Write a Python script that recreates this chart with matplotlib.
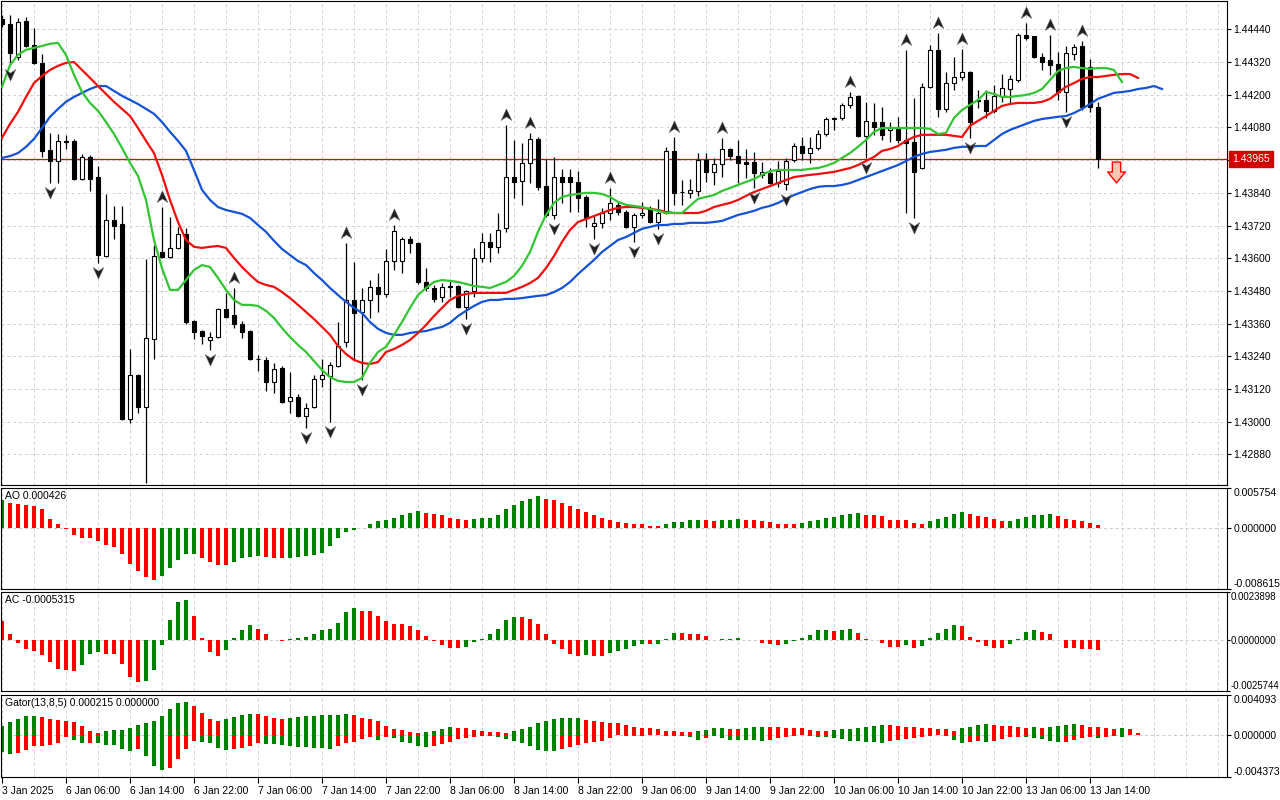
import numpy as np
import matplotlib
matplotlib.use('Agg')
import matplotlib.pyplot as plt
from matplotlib.path import Path
from matplotlib.transforms import blended_transform_factory

plt.rcParams['font.family'] = ['Liberation Sans', 'DejaVu Sans']

# H1 candles, 3 Jan 22:00 .. 13 Jan 15:00
opens = [1.44478, 1.44460, 1.44339, 1.44471, 1.44383, 1.44317, 1.43998, 1.43957, 1.44030, 1.44030,
         1.43891, 1.43972, 1.43898, 1.43609, 1.43741, 1.43726, 1.43010, 1.43172, 1.43054, 1.43304,
         1.43624, 1.43605, 1.43638, 1.43689, 1.43370, 1.43333, 1.43300, 1.43311, 1.43414, 1.43392,
         1.43359, 1.43333, 1.43231, 1.43227, 1.43146, 1.43198, 1.43076, 1.43091, 1.43021, 1.43054,
         1.43157, 1.43168, 1.43205, 1.43293, 1.43447, 1.43403, 1.43447, 1.43494, 1.43469, 1.43590,
         1.43590, 1.43671, 1.43656, 1.43513, 1.43491, 1.43458, 1.43498, 1.43498, 1.43421, 1.43480,
         1.43602, 1.43660, 1.43641, 1.43712, 1.43898, 1.43884, 1.43950, 1.44038, 1.43865, 1.43759,
         1.43898, 1.43898, 1.43880, 1.43825, 1.43719, 1.43730, 1.43766, 1.43796, 1.43770, 1.43715,
         1.43759, 1.43785, 1.43734, 1.43766, 1.43994, 1.43844, 1.43840, 1.43847, 1.43961, 1.43917,
         1.43946, 1.44001, 1.43976, 1.43954, 1.43954, 1.43906, 1.43913, 1.43876, 1.43873, 1.43961,
         1.44013, 1.43987, 1.44005, 1.44056, 1.44115, 1.44115, 1.44163, 1.44196, 1.44049, 1.44100,
         1.44100, 1.44071, 1.44078, 1.44034, 1.44027, 1.43932, 1.44229, 1.44365, 1.44148, 1.44243,
         1.44265, 1.44284, 1.44181, 1.44181, 1.44141, 1.44196, 1.44221, 1.44254, 1.44420, 1.44416,
         1.44339, 1.44328, 1.44313, 1.44210, 1.44350, 1.44379, 1.44302, 1.44155]
highs = [1.44493, 1.44493, 1.44482, 1.44485, 1.44446, 1.44350, 1.44060, 1.44056, 1.44053, 1.44038,
         1.43983, 1.43980, 1.43939, 1.43836, 1.43792, 1.43792, 1.43267, 1.43174, 1.43598, 1.43649,
         1.43788, 1.43751, 1.43715, 1.43712, 1.43374, 1.43337, 1.43330, 1.43416, 1.43473, 1.43491,
         1.43370, 1.43337, 1.43246, 1.43238, 1.43216, 1.43205, 1.43183, 1.43102, 1.43069, 1.43172,
         1.43231, 1.43220, 1.43367, 1.43656, 1.43587, 1.43491, 1.43520, 1.43546, 1.43634, 1.43723,
         1.43678, 1.43682, 1.43660, 1.43565, 1.43502, 1.43509, 1.43520, 1.43502, 1.43484, 1.43638,
         1.43693, 1.43693, 1.43766, 1.44090, 1.44034, 1.44023, 1.44060, 1.44045, 1.43965, 1.43972,
         1.43928, 1.43928, 1.43920, 1.43832, 1.43759, 1.43785, 1.43858, 1.43807, 1.43777, 1.43766,
         1.43807, 1.43792, 1.43818, 1.44009, 1.44045, 1.43887, 1.43891, 1.43987, 1.43987, 1.43969,
         1.44042, 1.44005, 1.44034, 1.44001, 1.43990, 1.43954, 1.43932, 1.43957, 1.43969, 1.44023,
         1.44045, 1.44045, 1.44071, 1.44119, 1.44119, 1.44170, 1.44211, 1.44200, 1.44174, 1.44170,
         1.44155, 1.44100, 1.44119, 1.44365, 1.44189, 1.44243, 1.44383, 1.44427, 1.44284, 1.44339,
         1.44368, 1.44287, 1.44218, 1.44218, 1.44236, 1.44276, 1.44273, 1.44427, 1.44464, 1.44401,
         1.44354, 1.44420, 1.44357, 1.44379, 1.44387, 1.44398, 1.44332, 1.44174]
lows = [1.44449, 1.44310, 1.44328, 1.44375, 1.44313, 1.43972, 1.43876, 1.43876, 1.44001, 1.43887,
        1.43887, 1.43847, 1.43583, 1.43605, 1.43671, 1.43007, 1.42996, 1.43032, 1.42775, 1.43231,
        1.43602, 1.43602, 1.43634, 1.43359, 1.43304, 1.43285, 1.43264, 1.43308, 1.43381, 1.43345,
        1.43308, 1.43227, 1.43186, 1.43113, 1.43106, 1.43069, 1.43032, 1.43017, 1.42978, 1.43049,
        1.43127, 1.43000, 1.43201, 1.43274, 1.43227, 1.43153, 1.43381, 1.43403, 1.43458, 1.43557,
        1.43546, 1.43620, 1.43505, 1.43480, 1.43440, 1.43440, 1.43458, 1.43418, 1.43377, 1.43458,
        1.43587, 1.43587, 1.43620, 1.43697, 1.43822, 1.43796, 1.43876, 1.43851, 1.43751, 1.43744,
        1.43803, 1.43770, 1.43770, 1.43715, 1.43671, 1.43712, 1.43741, 1.43759, 1.43712, 1.43660,
        1.43748, 1.43730, 1.43708, 1.43763, 1.43796, 1.43796, 1.43822, 1.43829, 1.43880, 1.43869,
        1.43898, 1.43961, 1.43876, 1.43895, 1.43858, 1.43895, 1.43873, 1.43862, 1.43851, 1.43954,
        1.43961, 1.43950, 1.43998, 1.44049, 1.44071, 1.44108, 1.44152, 1.44045, 1.43969, 1.44053,
        1.44034, 1.44027, 1.44023, 1.43766, 1.43748, 1.43928, 1.44225, 1.44119, 1.44137, 1.44218,
        1.44254, 1.44042, 1.44152, 1.44115, 1.44133, 1.44174, 1.44166, 1.44247, 1.44401, 1.44335,
        1.44291, 1.44273, 1.44181, 1.44137, 1.44328, 1.44144, 1.44137, 1.43932]
closes = [1.44460, 1.44354, 1.44468, 1.44379, 1.44317, 1.43994, 1.43957, 1.44030, 1.44028, 1.43891,
          1.43972, 1.43891, 1.43613, 1.43741, 1.43719, 1.43010, 1.43172, 1.43054, 1.43308, 1.43609,
          1.43605, 1.43638, 1.43689, 1.43367, 1.43330, 1.43315, 1.43311, 1.43414, 1.43384, 1.43359,
          1.43330, 1.43231, 1.43229, 1.43146, 1.43194, 1.43073, 1.43091, 1.43021, 1.43051, 1.43157,
          1.43172, 1.43209, 1.43278, 1.43447, 1.43399, 1.43447, 1.43494, 1.43469, 1.43590, 1.43700,
          1.43671, 1.43656, 1.43513, 1.43491, 1.43451, 1.43494, 1.43496, 1.43421, 1.43480, 1.43602,
          1.43660, 1.43641, 1.43704, 1.43898, 1.43880, 1.43950, 1.44038, 1.43861, 1.43759, 1.43898,
          1.43880, 1.43880, 1.43822, 1.43748, 1.43730, 1.43766, 1.43803, 1.43770, 1.43715, 1.43759,
          1.43766, 1.43734, 1.43766, 1.43994, 1.43840, 1.43842, 1.43851, 1.43961, 1.43917, 1.43946,
          1.44001, 1.43976, 1.43950, 1.43946, 1.43913, 1.43917, 1.43876, 1.43920, 1.43957, 1.44013,
          1.43987, 1.44005, 1.44056, 1.44111, 1.44111, 1.44163, 1.44192, 1.44049, 1.44104, 1.44082,
          1.44053, 1.44078, 1.44034, 1.44023, 1.43917, 1.44229, 1.44365, 1.44148, 1.44243, 1.44265,
          1.44284, 1.44100, 1.44177, 1.44141, 1.44196, 1.44225, 1.44258, 1.44420, 1.44409, 1.44339,
          1.44321, 1.44310, 1.44210, 1.44354, 1.44376, 1.44155, 1.44155, 1.43965]

# Alligator lines (jaw shifted 8, teeth 5, lips 3 bars ahead)
jaw = [1.43968, 1.43975, 1.43986, 1.44009, 1.44038, 1.44078, 1.44119, 1.44148, 1.44174, 1.44192,
       1.44207, 1.44221, 1.44232, 1.44232, 1.44214, 1.44196, 1.44181, 1.44166, 1.44148, 1.44130,
       1.44100, 1.44064, 1.44031, 1.43994, 1.43924, 1.43851, 1.43814, 1.43788, 1.43777, 1.43770,
       1.43763, 1.43748, 1.43722, 1.43697, 1.43664, 1.43634, 1.43612, 1.43590, 1.43575, 1.43546,
       1.43520, 1.43491, 1.43465, 1.43440, 1.43418, 1.43399, 1.43366, 1.43341, 1.43326, 1.43319,
       1.43319, 1.43326, 1.43330, 1.43333, 1.43341, 1.43348, 1.43363, 1.43388, 1.43407, 1.43425,
       1.43440, 1.43447, 1.43447, 1.43451, 1.43451, 1.43454, 1.43458, 1.43462, 1.43465, 1.43476,
       1.43491, 1.43513, 1.43542, 1.43568, 1.43594, 1.43623, 1.43645, 1.43667, 1.43678, 1.43693,
       1.43708, 1.43715, 1.43722, 1.43722, 1.43726, 1.43726, 1.43730, 1.43730, 1.43730, 1.43733,
       1.43737, 1.43748, 1.43759, 1.43766, 1.43774, 1.43785, 1.43792, 1.43803, 1.43818, 1.43832,
       1.43843, 1.43854, 1.43862, 1.43865, 1.43865, 1.43869, 1.43876, 1.43887, 1.43898, 1.43909,
       1.43920, 1.43931, 1.43942, 1.43957, 1.43972, 1.43983, 1.43990, 1.43994, 1.43998, 1.44005,
       1.44009, 1.44009, 1.44012, 1.44012, 1.44034, 1.44056, 1.44071, 1.44082, 1.44093, 1.44104,
       1.44111, 1.44115, 1.44119, 1.44122, 1.44133, 1.44148, 1.44166, 1.44185, 1.44196, 1.44207,
       1.44210, 1.44214, 1.44221, 1.44225, 1.44232, 1.44221]
teeth = [1.44042, 1.44093, 1.44137, 1.44192, 1.44243, 1.44269, 1.44291, 1.44306, 1.44317, 1.44320,
         1.44291, 1.44262, 1.44232, 1.44203, 1.44174, 1.44148, 1.44122, 1.44078, 1.44031, 1.43986,
         1.43906, 1.43814, 1.43733, 1.43667, 1.43642, 1.43638, 1.43642, 1.43645, 1.43638, 1.43601,
         1.43568, 1.43539, 1.43513, 1.43502, 1.43495, 1.43476, 1.43454, 1.43429, 1.43403, 1.43377,
         1.43348, 1.43319, 1.43278, 1.43249, 1.43227, 1.43216, 1.43212, 1.43219, 1.43256, 1.43267,
         1.43282, 1.43300, 1.43326, 1.43355, 1.43388, 1.43418, 1.43447, 1.43462, 1.43469, 1.43473,
         1.43473, 1.43473, 1.43473, 1.43473, 1.43484, 1.43495, 1.43509, 1.43528, 1.43564, 1.43608,
         1.43660, 1.43704, 1.43733, 1.43744, 1.43755, 1.43766, 1.43777, 1.43785, 1.43788, 1.43788,
         1.43785, 1.43781, 1.43777, 1.43770, 1.43766, 1.43766, 1.43766, 1.43766, 1.43774, 1.43788,
         1.43796, 1.43803, 1.43814, 1.43829, 1.43843, 1.43854, 1.43865, 1.43876, 1.43887, 1.43898,
         1.43902, 1.43906, 1.43909, 1.43913, 1.43917, 1.43924, 1.43931, 1.43942, 1.43957, 1.43972,
         1.43994, 1.44001, 1.44012, 1.44031, 1.44045, 1.44053, 1.44053, 1.44053, 1.44053, 1.44049,
         1.44045, 1.44086, 1.44104, 1.44122, 1.44141, 1.44159, 1.44166, 1.44170, 1.44170, 1.44170,
         1.44174, 1.44185, 1.44207, 1.44229, 1.44243, 1.44258, 1.44265, 1.44265, 1.44269, 1.44273,
         1.44276, 1.44276, 1.44262]
lips = [1.44229, 1.44309, 1.44346, 1.44365, 1.44372, 1.44379, 1.44387, 1.44390, 1.44346, 1.44273,
        1.44210, 1.44170, 1.44141, 1.44100, 1.44056, 1.44005, 1.43950, 1.43902, 1.43814, 1.43667,
        1.43564, 1.43484, 1.43484, 1.43520, 1.43557, 1.43575, 1.43568, 1.43528, 1.43484, 1.43447,
        1.43429, 1.43429, 1.43425, 1.43407, 1.43381, 1.43344, 1.43311, 1.43282, 1.43256, 1.43223,
        1.43190, 1.43164, 1.43150, 1.43146, 1.43146, 1.43161, 1.43216, 1.43256, 1.43275, 1.43319,
        1.43366, 1.43418, 1.43465, 1.43491, 1.43513, 1.43520, 1.43517, 1.43513, 1.43506, 1.43498,
        1.43495, 1.43491, 1.43502, 1.43513, 1.43535, 1.43572, 1.43623, 1.43697, 1.43759, 1.43803,
        1.43825, 1.43832, 1.43836, 1.43840, 1.43840, 1.43836, 1.43825, 1.43807, 1.43796, 1.43792,
        1.43788, 1.43781, 1.43774, 1.43766, 1.43766, 1.43766, 1.43792, 1.43818, 1.43825, 1.43832,
        1.43847, 1.43858, 1.43869, 1.43880, 1.43891, 1.43906, 1.43920, 1.43924, 1.43924, 1.43924,
        1.43924, 1.43928, 1.43931, 1.43939, 1.43950, 1.43968, 1.43986, 1.44009, 1.44034, 1.44064,
        1.44078, 1.44078, 1.44078, 1.44078, 1.44078, 1.44078, 1.44075, 1.44056, 1.44060, 1.44115,
        1.44144, 1.44163, 1.44181, 1.44210, 1.44203, 1.44192, 1.44192, 1.44196, 1.44199, 1.44207,
        1.44221, 1.44254, 1.44287, 1.44298, 1.44302, 1.44298, 1.44295, 1.44298, 1.44298, 1.44291,
        1.44247]

# Awesome Oscillator, in 1e-5
ao_pts = [400, 367, 353, 339, 316, 273, 141, 57, -5, -94,
          -132, -141, -179, -236, -259, -363, -504, -612, -697, -739,
          -683, -556, -447, -363, -358, -414, -471, -518, -523, -471,
          -424, -400, -391, -405, -414, -419, -414, -400, -391, -377,
          -344, -250, -141, -57, -24, 9, 57, 104, 127, 155,
          198, 226, 245, 226, 203, 188, 155, 141, 118, 132,
          151, 155, 198, 273, 339, 386, 424, 457, 424, 400,
          363, 316, 273, 236, 188, 151, 127, 94, 80, 66,
          57, 38, 33, 61, 89, 94, 118, 122, 118, 108,
          122, 125, 137, 122, 120, 104, 94, 66, 61, 57,
          80, 104, 127, 151, 165, 198, 212, 221, 193, 188,
          170, 127, 122, 118, 75, 61, 108, 137, 160, 203,
          236, 207, 174, 160, 137, 108, 111, 132, 160, 188,
          191, 203, 174, 132, 122, 104, 80, 42.6]
# Accelerator Oscillator, in 1e-6
ac_pts = [957, 297, -149, -479, -578, -792, -1139, -1452, -1518, -1568,
          -1271, -726, -627, -726, -743, -1238, -1865, -2112, -2063, -1518,
          -281, 990, 1865, 1980, 1188, 99, -627, -825, -528, 99,
          495, 710, 545, 264, -17, -66, 17, 99, 132, 297,
          462, 512, 858, 1403, 1584, 1452, 1436, 1172, 924, 792,
          776, 660, 495, 198, -83, -281, -413, -429, -363, -116,
          50, 264, 512, 990, 1155, 1122, 1056, 792, 297, -231,
          -479, -726, -825, -776, -809, -825, -693, -578, -446, -314,
          -198, -231, -198, 50, 347, 330, 297, 281, 165, 0,
          33, 50, 83, 0, -33, -149, -231, -248, -231, -66,
          99, 248, 462, 479, 446, 462, 512, 330, 17, -33,
          -165, -363, -380, -281, -396, -314, 99, 347, 512, 726,
          693, 132, -116, -330, -413, -429, -231, 50, 380, 495,
          380, 297, -33, -413, -429, -446, -462, -531.5]
# Gator oscillator, in 1e-6
gator_up_pts = [918, 1258, 1598, 1938, 1972, 1836, 1598, 1496, 1360, 1326,
                918, 408, 170, 340, 476, 510, 680, 986, 1156, 1360,
                1938, 2618, 3230, 3400, 2958, 2278, 1666, 1428, 1598, 1836,
                2040, 2176, 2108, 1938, 1734, 1666, 1700, 1870, 1938, 1972,
                2006, 2040, 2074, 2108, 2006, 1768, 1666, 1360, 850, 578,
                476, 238, 170, 306, 408, 578, 748, 714, 680, 476,
                340, 272, 238, 170, 340, 578, 816, 1156, 1360, 1598,
                1700, 1734, 1768, 1530, 1360, 1258, 1224, 1156, 986, 816,
                680, 646, 578, 408, 340, 306, 238, 408, 476, 646,
                680, 578, 544, 680, 748, 816, 782, 748, 714, 680,
                646, 510, 408, 374, 510, 578, 612, 680, 816, 918,
                986, 952, 918, 816, 748, 680, 646, 578, 544, 408,
                646, 816, 986, 1088, 986, 918, 850, 748, 646, 748,
                646, 816, 918, 1020, 1088, 986, 816, 748, 646, 612,
                680, 544, 215]
gator_dn_pts = [-1802, -2040, -1904, -1632, -1224, -1122, -1020, -850, -272, -544,
                -884, -850, -884, -1020, -1054, -1462, -1734, -1530, -2210, -3264,
                -3672, -3400, -2482, -1462, -612, -782, -850, -1394, -1564, -1530,
                -1360, -1122, -850, -952, -986, -1020, -1190, -1258, -1326, -1360,
                -1394, -1462, -1224, -850, -714, -442, -204, -544, -204, -374,
                -782, -884, -1224, -1258, -1190, -952, -782, -442, -306, -272,
                -170, -102, -272, -442, -680, -850, -1224, -1632, -1666, -1700,
                -1530, -1292, -1020, -850, -782, -612, -374, -34, -102, -136,
                -102, -68, -68, -102, -136, -102, -272, -510, -340, -102,
                -374, -510, -544, -578, -595, -612, -510, -340, -272, -170,
                -34, -170, -204, -272, -340, -442, -612, -680, -714, -782,
                -816, -680, -510, -408, -306, -238, -136, -68, -102, -510,
                -884, -714, -680, -782, -646, -408, -272, -204, -272, -340,
                -442, -646, -782, -714, -578, -374, -272, -306, -272, -136,
                -272]

frac_up = [20, 29, 43, 49, 63, 66, 76, 84, 90, 106, 113, 117, 120, 128, 131, 135]
frac_dn = [1, 6, 12, 18, 26, 38, 41, 45, 58, 69, 74, 79, 82, 94, 98, 108, 114, 121, 133]

tick_pos = list(range(0, 137, 8))
tick_labels = ['3 Jan 2025', '6 Jan 06:00', '6 Jan 14:00', '6 Jan 22:00', '7 Jan 06:00',
               '7 Jan 14:00', '7 Jan 22:00', '8 Jan 06:00', '8 Jan 14:00', '8 Jan 22:00',
               '9 Jan 06:00', '9 Jan 14:00', '9 Jan 22:00', '10 Jan 06:00', '10 Jan 14:00',
               '10 Jan 22:00', '13 Jan 06:00', '13 Jan 14:00']
price_ticks = np.round(1.42880 + 0.0012 * np.arange(14), 5)
ao_scale = [-0.008615, 0.0, 0.005754]
ac_scale = [-0.0025744, 0.0, 0.0023898]
gator_scale = [-0.004373, 0.0, 0.004093]

GREEN = '#008000'
RED = '#ff0000'
GRID = '#d0d0d0'
FS = 7.5
W, H = 1280, 800

fig = plt.figure(figsize=(12.8, 8), dpi=100)


def px_axes(top, bottom):
    return fig.add_axes([1 / W, 1 - bottom / H, 1226 / W, (bottom - top) / H])


ax = px_axes(1, 485)
ax_ao = px_axes(488, 589)
ax_ac = px_axes(592, 691)
ax_g = px_axes(695, 777)
axes = [ax, ax_ao, ax_ac, ax_g]

for a in axes:
    a.set_xlim(-0.125, 153.125)
    for k in range(0, 39):
        a.axvline(4 * k, color=GRID, lw=0.7, ls=(0, (3, 3)), zorder=0)
    for s in a.spines.values():
        s.set_color('black')
        s.set_linewidth(0.8)
    a.yaxis.tick_right()
    a.tick_params(axis='y', length=3, width=0.8, pad=1.5, labelsize=FS, colors='black')
    a.tick_params(axis='x', length=0, labelbottom=False)

# ---- price panel
o, h, l, c = map(np.array, (opens, highs, lows, closes))
x = np.arange(len(o))
bid = closes[-1]
ax.set_ylim(1.42768, 1.44544)
ax.set_yticks(price_ticks)
# the bid label sits over the 1.43960 level
ax.set_yticklabels(['' if abs(v - bid) < 0.0003 else f'{v:.5f}' for v in price_ticks])
for v in price_ticks:
    ax.axhline(v, color=GRID, lw=0.7, ls=(0, (3, 3)), zorder=0)

ax.axhline(bid, color='#e60000', lw=0.9, zorder=1)

ax.vlines(x, l, h, color='black', lw=0.9, zorder=2)
lo_b = np.minimum(o, c)
hgt = np.abs(c - o)
bull = c >= o
ax.bar(x[bull], hgt[bull], bottom=lo_b[bull], width=0.56, facecolor='white',
       edgecolor='black', lw=0.8, zorder=3)
ax.bar(x[~bull], hgt[~bull], bottom=lo_b[~bull], width=0.56, facecolor='black',
       edgecolor='black', lw=0.8, zorder=3)

ax.plot(np.arange(len(jaw)), jaw, color='#1452d6', lw=1.6, zorder=4)
ax.plot(np.arange(len(teeth)), teeth, color='#f20d0d', lw=1.6, zorder=4)
ax.plot(np.arange(len(lips)), lips, color='#33c433', lw=1.6, zorder=4)

codes = [Path.MOVETO, Path.LINETO, Path.LINETO, Path.LINETO, Path.CLOSEPOLY]
up_arrow = Path([(0, 1), (0.8, -0.75), (0, -0.2), (-0.8, -0.75), (0, 1)], codes)
dn_arrow = Path([(0, -1), (0.8, 0.75), (0, 0.2), (-0.8, 0.75), (0, -1)], codes)
fu = np.array(frac_up)
fd = np.array(frac_dn)
ax.plot(fu, h[fu] + 0.00037, ls='none', marker=up_arrow, ms=9.5, mfc='#1e1e1e',
        mec='#6a6a6a', mew=0.4, zorder=5)
ax.plot(fd, l[fd] - 0.00034, ls='none', marker=dn_arrow, ms=9.5, mfc='#1e1e1e',
        mec='#6a6a6a', mew=0.4, zorder=5)

sell_arrow = Path([(-0.4, 1), (0.4, 1), (0.4, 0.05), (0.85, 0.05), (0, -1), (-0.85, 0.05),
                   (-0.4, 0.05), (-0.4, 1)],
                  [Path.MOVETO] + [Path.LINETO] * 6 + [Path.CLOSEPOLY])
ax.plot([len(closes) + 1.3], [bid - 0.0005], ls='none', marker=sell_arrow, ms=15,
        mfc='#ffc4b0', mec='#ff0000', mew=1.0, zorder=5)

tr = blended_transform_factory(ax.transAxes, ax.transData)
ax.text(1.004, bid, f'{bid:.5f}', transform=tr, color='white', fontsize=FS,
        va='center', ha='left', clip_on=False, zorder=6,
        bbox=dict(boxstyle='square,pad=0.3', fc='#d40000', ec='#d40000'))


# ---- indicator panels
def trend_colors(vals, first):
    cols = [first]
    for a, b in zip(vals[:-1], vals[1:]):
        cols.append(GREEN if b > a else RED)
    return cols


def scale_labels(a, scale, fmt):
    a.set_ylim(scale[0], scale[2])
    a.set_yticks(scale)
    a.set_yticklabels([fmt.format(v) for v in scale])
    labs = a.get_yticklabels()
    labs[0].set_va('bottom')
    labs[2].set_va('top')
    a.axhline(0, color='#c8c8c8', lw=0.7, ls=(0, (3, 3)), zorder=0)


ao = np.array(ao_pts) * 1e-5
ax_ao.bar(np.arange(len(ao)), ao, width=0.42, color=trend_colors(ao, GREEN), zorder=2)
scale_labels(ax_ao, ao_scale, '{:.6f}')
ax_ao.text(4 / 1226, 0.92, 'AO 0.000426', transform=ax_ao.transAxes, fontsize=FS,
           va='center', ha='left')

ac = np.array(ac_pts) * 1e-6
ax_ac.bar(np.arange(len(ac)), ac, width=0.42, color=trend_colors(ac, RED), zorder=2)
scale_labels(ax_ac, ac_scale, '{:.7f}')
ax_ac.tick_params(axis='y', length=2, pad=0.8, labelsize=6.9)
ax_ac.text(4 / 1226, 0.92, 'AC -0.0005315', transform=ax_ac.transAxes, fontsize=FS,
           va='center', ha='left')

gu = np.array(gator_up_pts) * 1e-6
gd = np.array(gator_dn_pts) * 1e-6
ax_g.bar(np.arange(len(gu)), gu, width=0.42, color=trend_colors(gu, GREEN), zorder=2)
ax_g.bar(np.arange(len(gd)), gd, width=0.42,
         color=trend_colors(np.abs(gd), GREEN), zorder=2)
scale_labels(ax_g, gator_scale, '{:.6f}')
ax_g.text(4 / 1226, 0.9, 'Gator(13,8,5) 0.000215 0.000000', transform=ax_g.transAxes,
          fontsize=FS, va='center', ha='left')

ax_g.set_xticks(tick_pos)
ax_g.set_xticklabels(tick_labels, ha='left')
ax_g.tick_params(axis='x', length=4, width=0.8, pad=2.5, labelsize=FS,
                 labelbottom=True, direction='out')

fig.savefig('out.png', dpi=100, facecolor='white')
